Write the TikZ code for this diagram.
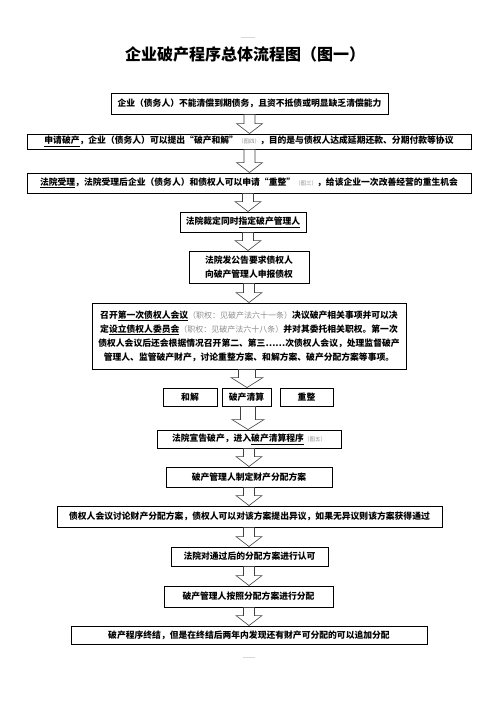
\documentclass[tikz,border=0pt]{standalone}
\usepackage{fontspec}
\setmainfont{Noto Sans CJK SC}
\usetikzlibrary{calc}
\tikzset{
  stepbox/.style={draw,line width=.9pt,inner sep=0pt,align=center,
    font=\fontsize{8.8}{14}\selectfont\bfseries},
  hollowarrow/.style={draw=black!75,line width=.6pt,fill=white}
}
\newcommand\lawnote[1]{{\fontsize{8}{14}\selectfont\mdseries\color{black!45}#1}}
\newcommand\fignote[1]{{\fontsize{5.5}{8}\selectfont\mdseries\color{black!45}#1}}

\begin{document}
\begin{tikzpicture}[x=1pt,y=-1pt]
\useasboundingbox (0,0) rectangle (496,702);

\draw[black!15,line width=.5pt] (241,37) -- (255,37);
\draw[black!15,line width=.5pt] (243,657) -- (255,657);

\node[font=\fontsize{16}{16}\selectfont\bfseries] (title) at (245,54)
  {企业破产程序总体流程图（图一）};

\node[stepbox,minimum width=277pt,minimum height=21pt] (lack) at (249.5,103.5)
  {企业（债务人）不能清偿到期债务，且资不抵债或明显缺乏清偿能力};
\node[stepbox,minimum width=444pt,minimum height=15pt] (apply) at (249,141.5)
  {\underline{申请破产}，企业（债务人）可以提出“破产和解”\fignote{（图四）}，目的是与债权人达成延期还款、分期付款等协议};
\node[stepbox,minimum width=444pt,minimum height=20pt] (accept) at (249,183)
  {\underline{法院受理}，法院受理后企业（债务人）和债权人可以申请“重整”\fignote{（图三）}，给该企业一次改善经营的重生机会};
\node[stepbox,minimum width=126pt,minimum height=20pt] (appoint) at (243,222)
  {法院裁定同时\underline{指定破产管理人}};
\node[stepbox,minimum width=120pt,minimum height=32pt,
  font=\fontsize{8.8}{13.5}\selectfont\bfseries] (notice) at (249,267)
  {法院发公告要求债权人\\向破产管理人申报债权};
\node[stepbox,minimum width=314pt,minimum height=66pt] (meeting) at (249,336)
  {召开\underline{第一次债权人会议}\lawnote{（职权：见破产法六十一条）}决议破产相关事项并可以决\\
   定\underline{设立债权人委员会}\lawnote{（职权：见破产法六十八条）}并对其委托相关职权。第一次\\
   债权人会议后还会根据情况召开第二、第三……次债权人会议，处理监督破产\\
   管理人、监管破产财产，讨论重整方案、和解方案、破产分配方案等事项。};

\node[stepbox,minimum width=54pt,minimum height=18pt] (settle) at (190,397) {和解};
\node[stepbox,minimum width=49pt,minimum height=18pt] (liquid) at (246.5,397) {破产清算};
\node[stepbox,minimum width=53pt,minimum height=18pt] (reorg) at (306.5,397) {重整};

\node[stepbox,minimum width=184pt,minimum height=18pt] (declare) at (249,439)
  {法院宣告破产，进入\underline{破产清算程序}\fignote{（图五）}};
\node[stepbox,minimum width=166pt,minimum height=20pt] (plan) at (249,477)
  {破产管理人制定财产分配方案};
\node[stepbox,minimum width=385pt,minimum height=21pt] (discuss) at (249.5,516.5)
  {债权人会议讨论财产分配方案，债权人可以对该方案提出异议，如果无异议则该方案获得通过};
\node[stepbox,minimum width=157pt,minimum height=19pt] (approve) at (249.5,556.5)
  {法院对通过后的分配方案进行认可};
\node[stepbox,minimum width=169pt,minimum height=21pt] (distrib) at (248.5,596.5)
  {破产管理人按照分配方案进行分配};
\node[stepbox,minimum width=356pt,minimum height=18pt] (finish) at (249,635)
  {破产程序终结，但是在终结后两年内发现还有财产可分配的可以追加分配};

\foreach \from/\to/\ax/\sw/\hw in {lack/apply/249.5/5.5/13,apply/accept/249.5/5.5/13,
  accept/appoint/248/5.5/13,appoint/notice/248/5.5/13,notice/meeting/249/5.5/13,
  meeting/liquid/247/8.5/16,liquid/declare/248/7.5/16,declare/plan/249/5.5/13,
  plan/discuss/249/5.5/13,discuss/approve/249/5.5/13,approve/distrib/249/5.5/13,
  distrib/finish/249/5.5/13}
  \draw[hollowarrow] let \p1=(\from.south), \p2=(\to.north) in
    ({\ax pt-\sw pt},\y1) -- ({\ax pt-\sw pt},{\y2+10pt}) --
    ({\ax pt-\hw pt},{\y2+10pt}) -- ({\ax pt},\y2) --
    ({\ax pt+\hw pt},{\y2+10pt}) -- ({\ax pt+\sw pt},{\y2+10pt}) --
    ({\ax pt+\sw pt},\y1) -- cycle;
\end{tikzpicture}
\end{document}
